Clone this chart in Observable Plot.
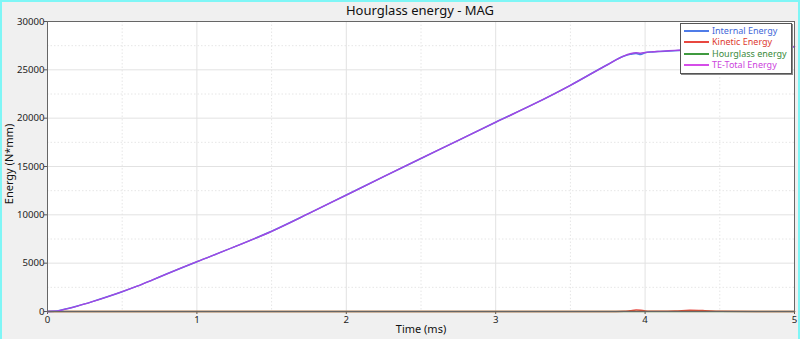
<!DOCTYPE html>
<html>
<head>
<meta charset="utf-8">
<script src="https://cdn.jsdelivr.net/npm/d3@7"></script>
<script src="https://cdn.jsdelivr.net/npm/@observablehq/plot@0.6"></script>
<style>
  html, body { margin: 0; padding: 0; background: #f0f0f0; }
  #wrap { position: relative; width: 800px; height: 339px; overflow: hidden; font-family: "Noto Sans", sans-serif; }
  #edge { position: absolute; left: 0; top: 0; width: 796px; height: 339px; border-left: 2px solid #7ff6f6; border-right: 2px solid #7ff6f6; border-top: 2px solid #7ff6f6; box-sizing: content-box; pointer-events: none; }
  #title { position: absolute; left: 420px; top: 1px; transform: translateX(-50%); font-size: 13px; color: #111; white-space: nowrap; }
  #ylab { position: absolute; left: 9px; top: 164px; transform: translate(-50%, -50%) rotate(-90deg); font-size: 11px; line-height: 12px; color: #111; white-space: nowrap; }
  #xlab { position: absolute; left: 421px; top: 321px; transform: translateX(-50%); font-size: 11px; color: #111; white-space: nowrap; }
  #legend { position: absolute; left: 680px; top: 23px; width: 110px; height: 49px; background: #fff; border: 1px solid #555; box-shadow: 1px 1px 0 #888; font-size: 9px; line-height: 10px; }
  .row { position: absolute; left: 3px; height: 10px; display: flex; align-items: center; white-space: nowrap; }
  .sw { width: 25px; height: 2px; margin-right: 3px; }
</style>
</head>
<body>
<div id="wrap">
  <div id="chart"></div>
  <div id="title">Hourglass energy - MAG</div>
  <div id="ylab">Energy (N*mm)</div>
  <div id="xlab">Time (ms)</div>
  <div id="legend"></div>
  <div id="edge"></div>
</div>
<script>
// ---- data ----
const time      = [0, 0.05, 0.1, 0.2, 0.3, 0.4, 0.5, 0.6, 0.7, 0.8, 0.9, 1.0, 1.25, 1.5, 1.75, 2.0, 2.25, 2.5, 2.75, 3.0, 3.25, 3.5, 3.75, 3.86, 3.9, 3.94, 3.97, 4.0, 4.05, 4.1, 4.2, 4.3, 4.4, 4.5, 4.75, 5.0];
const internal  = [0, 20, 170, 560, 1020, 1520, 2050, 2620, 3250, 3900, 4530, 5150, 6680, 8300, 10150, 12050, 13950, 15830, 17700, 19580, 21420, 23400, 25550, 26430, 26600, 26700, 26580, 26760, 26850, 26900, 26980, 27040, 27110, 27170, 27280, 27380];
const kinetic   = [0, 0, 0, 0, 0, 0, 0, 0, 0, 0, 0, 0, 0, 0, 0, 0, 0, 0, 0, 0, 0, 0, 0, 20, 80, 150, 120, 60, 30, 20, 40, 130, 90, 20, 10, 10];
const hourglass = [0, 0, 0, 0, 0, 0, 0, 0, 0, 0, 0, 0, 0, 0, 0, 0, 0, 0, 0, 0, 0, 0, 0, 0, 0, 0, 0, 0, 0, 0, 0, 0, 0, 0, 0, 0];
const total     = [0, 20, 170, 560, 1020, 1520, 2050, 2620, 3250, 3900, 4530, 5150, 6680, 8300, 10150, 12050, 13950, 15830, 17700, 19580, 21420, 23400, 25550, 26450, 26660, 26760, 26720, 26800, 26870, 26910, 27010, 27100, 27150, 27190, 27290, 27390];

const seriesNames  = ["Internal Energy", "Kinetic Energy", "Hourglass energy", "TE-Total Energy"];
const seriesColors = ["#4f7ce8", "#e8473f", "#3f9a3f", "#d54de8"];
const textColors   = ["#3f68d8", "#dd3a30", "#3a8a3a", "#cc44dd"];

const xTicks = [0, 1, 2, 3, 4, 5];
const yTicks = [0, 5000, 10000, 15000, 20000, 25000, 30000];
const xMinor = [0.5, 1.5, 2.5, 3.5, 4.5];
const yMinor = [2500, 7500, 12500, 17500, 22500, 27500];

const rows = time.map((t, i) => ({t, internal: internal[i], kinetic: kinetic[i], hourglass: hourglass[i], total: total[i]}));

const chart = Plot.plot({
  width: 800,
  height: 339,
  marginLeft: 47,
  marginRight: 6,
  marginTop: 21,
  marginBottom: 28,
  style: {background: "transparent", fontFamily: "Noto Sans, sans-serif", fontSize: "9.6px", color: "#222"},
  x: {domain: [0, 5], label: null},
  y: {domain: [0, 30000], label: null},
  marks: [
    Plot.frame({fill: "white"}),
    Plot.ruleX(xMinor, {stroke: "#e6e6e6", strokeDasharray: "1.5,2"}),
    Plot.ruleY(yMinor, {stroke: "#e6e6e6", strokeDasharray: "1.5,2"}),
    Plot.ruleX(xTicks.slice(1, -1), {stroke: "#e2e2e2"}),
    Plot.ruleY(yTicks.slice(1, -1), {stroke: "#e2e2e2"}),
    Plot.axisX({ticks: xTicks, tickSize: 3, tickPadding: 1.5, tickFormat: d => String(d), fill: "#222", stroke: "#555"}),
    Plot.axisY({ticks: yTicks, tickSize: 3, tickPadding: 0, tickFormat: d => String(d), fill: "#222", stroke: "#555"}),
    Plot.line(rows, {x: "t", y: "kinetic", stroke: seriesColors[1], strokeWidth: 1.5, curve: "monotone-x"}),
    Plot.line(rows, {x: "t", y: "hourglass", stroke: "#5f7a2a", strokeWidth: 1.5}),
    Plot.line(rows, {x: "t", y: "internal", stroke: seriesColors[0], strokeWidth: 1.5, curve: "monotone-x"}),
    Plot.line(rows, {x: "t", y: "total", stroke: "#a245e2", strokeWidth: 1.4, curve: "monotone-x"}),
    Plot.frame({stroke: "#666"})
  ]
});
document.getElementById("chart").appendChild(chart);

const legend = document.getElementById("legend");
const rowTops = [1.5, 13, 24.5, 36];
seriesNames.forEach((name, i) => {
  const r = document.createElement("div");
  r.className = "row";
  r.style.top = rowTops[i] + "px";
  const sw = document.createElement("div");
  sw.className = "sw";
  sw.style.background = seriesColors[i];
  const tx = document.createElement("span");
  tx.textContent = name;
  tx.style.color = textColors[i];
  r.appendChild(sw);
  r.appendChild(tx);
  legend.appendChild(r);
});
</script>
</body>
</html>
